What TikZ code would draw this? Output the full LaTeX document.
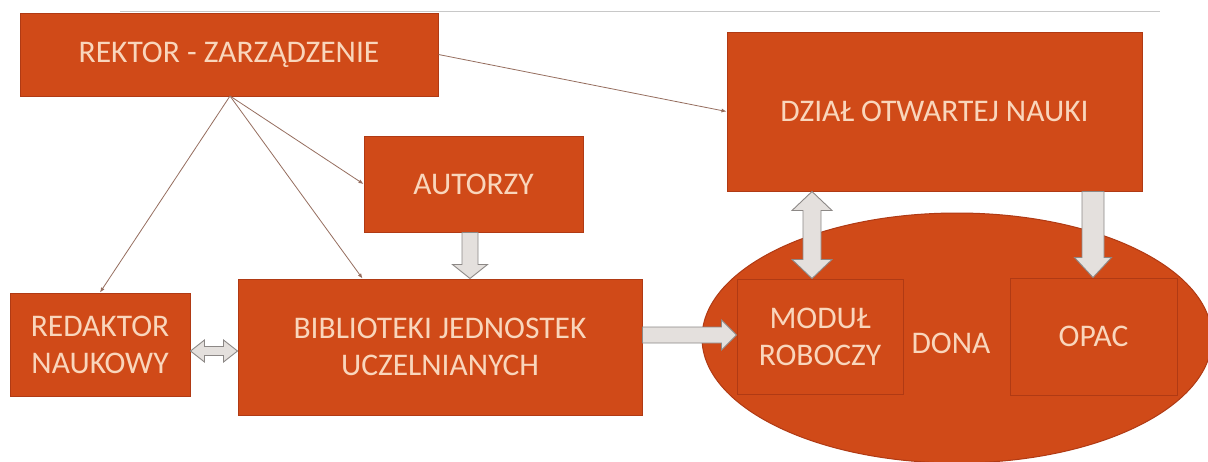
\documentclass[tikz,border=0pt]{standalone}
\usepackage{fontspec}
\setmainfont{Carlito}
\usetikzlibrary{shapes.geometric,calc,arrows.meta}
\definecolor{boxfill}{RGB}{208,74,24}
\definecolor{boxedge}{RGB}{176,58,20}
\definecolor{boxtext}{RGB}{249,214,188}
\definecolor{arrfill}{RGB}{228,224,221}
\definecolor{arredge}{RGB}{140,136,134}
\definecolor{thinline}{RGB}{150,110,95}
\definecolor{topline}{RGB}{200,200,200}
\tikzset{
  orangebox/.style={draw=boxedge, line width=1pt, fill=boxfill, rectangle, inner sep=0pt,
    text=boxtext, align=center, font=\fontsize{31.5}{37}\selectfont},
  innerbox/.style={draw=boxedge, line width=1pt, rectangle, inner sep=0pt,
    text=boxtext, align=center, font=\fontsize{31.5}{37}\selectfont},
  labeltext/.style={text=boxtext, inner sep=0pt, font=\fontsize{31.5}{37}\selectfont},
  thinarrow/.style={draw=thinline, line width=0.8pt, -{Latex[length=5pt,width=4pt]}},
  blockarrow/.style={draw=arredge, fill=arrfill, line width=0.9pt, line join=miter},
}
% vertical down block arrow: #1 start, #2 tip, #3 half shaft, #4 half head, #5 head length
\newcommand\blkdown[5]{%
  \filldraw[blockarrow] ($(#1)+(-#3,0)$) -- ($(#2)+(-#3,-#5)$) -- ($(#2)+(-#4,-#5)$) -- (#2)
    -- ($(#2)+(#4,-#5)$) -- ($(#2)+(#3,-#5)$) -- ($(#1)+(#3,0)$) -- cycle;}
% vertical double block arrow: #1 top tip, #2 bottom tip
\newcommand\blkvdouble[5]{%
  \filldraw[blockarrow] (#1) -- ($(#1)+(#4,#5)$) -- ($(#1)+(#3,#5)$) -- ($(#2)+(#3,-#5)$)
    -- ($(#2)+(#4,-#5)$) -- (#2) -- ($(#2)+(-#4,-#5)$) -- ($(#2)+(-#3,-#5)$)
    -- ($(#1)+(-#3,#5)$) -- ($(#1)+(-#4,#5)$) -- cycle;}
% horizontal right block arrow: #1 start, #2 tip
\newcommand\blkright[5]{%
  \filldraw[blockarrow] ($(#1)+(0,-#3)$) -- ($(#2)+(-#5,-#3)$) -- ($(#2)+(-#5,-#4)$) -- (#2)
    -- ($(#2)+(-#5,#4)$) -- ($(#2)+(-#5,#3)$) -- ($(#1)+(0,#3)$) -- cycle;}
% horizontal double block arrow: #1 left tip, #2 right tip
\newcommand\blkhdouble[5]{%
  \filldraw[blockarrow] (#1) -- ($(#1)+(#5,-#4)$) -- ($(#1)+(#5,-#3)$) -- ($(#2)+(-#5,-#3)$)
    -- ($(#2)+(-#5,-#4)$) -- (#2) -- ($(#2)+(-#5,#4)$) -- ($(#2)+(-#5,#3)$)
    -- ($(#1)+(#5,#3)$) -- ($(#1)+(#5,#4)$) -- cycle;}
\begin{document}
\begin{tikzpicture}[x=1pt,y=-1pt]
\useasboundingbox[fill=white] (0,0) rectangle (1208,461);
% top rule
\coordinate (tl) at (120,11);
\coordinate (tr) at (1160,11);
\draw[topline, line width=0.8pt] (tl) -- (tr);

% boxes
\node[orangebox, minimum width=418pt, minimum height=83pt] (rektor) at (229,54.5) {REKTOR - ZARZĄDZENIE};
\node[orangebox, minimum width=219pt, minimum height=96pt] (autorzy) at (473.5,184) {AUTORZY};
\node[orangebox, minimum width=404pt, minimum height=136pt] (bib) at (440,347) {BIBLIOTEKI JEDNOSTEK\\UCZELNIANYCH};
\node[orangebox, minimum width=180pt, minimum height=103pt] (redaktor) at (100,344.5) {REDAKTOR\\NAUKOWY};
\node[orangebox, minimum width=415pt, minimum height=159pt] (dzial) at (934.5,111.5) {DZIAŁ OTWARTEJ NAUKI};

% DONA ellipse
\begin{scope}
\clip (0,0) rectangle (1208,461);
\node[ellipse, draw=boxedge, line width=1pt, fill=boxfill, inner sep=0pt,
  minimum width=510pt, minimum height=250pt] (dona) at (957,338) {};
\end{scope}
\node[innerbox, minimum width=166pt, minimum height=115pt] (modul) at (820,336.5) {MODUŁ\\ROBOCZY};
\node[innerbox, minimum width=167pt, minimum height=117pt] (opac) at (1093.5,336.5) {OPAC};
\node[labeltext] (donalabel) at (951,343) {DONA};

% thin connectors from the rector
\coordinate (rk) at (230,96);
\coordinate (bibtop) at ($(bib.north west)+(125,0)$);
\draw[thinarrow] (rk) -- (redaktor.north);
\draw[thinarrow] (rk) -- (bibtop);
\draw[thinarrow] (rk) -- (autorzy.west);
\draw[thinarrow] (rektor.east) -- (dzial.west);

% block arrows
\coordinate (c470) at (470,0);
\coordinate (a1s) at (autorzy.south -| c470);
\coordinate (a1e) at (bib.north -| c470);
\blkdown{a1s}{a1e}{8}{17.5}{14}

\coordinate (y351) at (0,351);
\coordinate (a2s) at (redaktor.east |- y351);
\coordinate (a2e) at (bib.west |- y351);
\blkhdouble{a2s}{a2e}{4.5}{11}{14}

\coordinate (y335) at (0,335);
\coordinate (a3s) at (bib.east |- y335);
\coordinate (a3e) at (modul.west |- y335);
\blkright{a3s}{a3e}{8}{15}{15}

\coordinate (c812) at (812,0);
\coordinate (a4s) at (dzial.south -| c812);
\coordinate (a4e) at (modul.north -| c812);
\blkvdouble{a4s}{a4e}{9}{20}{19}

\coordinate (c1093) at (1093,0);
\coordinate (a5s) at (dzial.south -| c1093);
\coordinate (a5e) at (opac.north -| c1093);
\blkdown{a5s}{a5e}{11}{18.5}{20}
\end{tikzpicture}
\end{document}
